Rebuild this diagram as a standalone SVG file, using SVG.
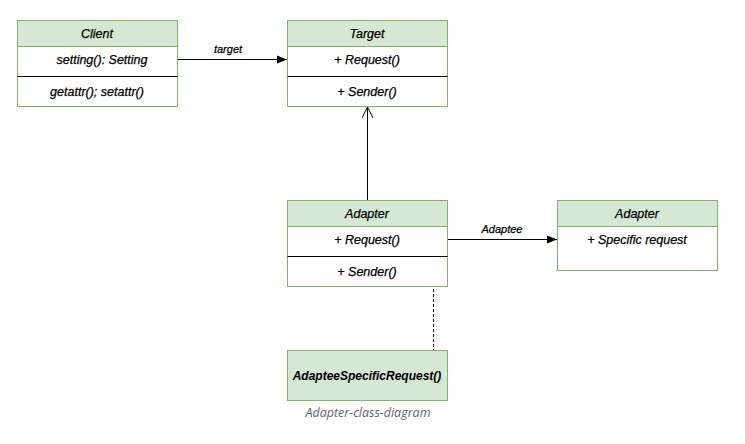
<svg xmlns="http://www.w3.org/2000/svg" width="745" height="444" viewBox="0 0 745 444">
<style>
.box{fill:#ffffff;stroke:#82b366;stroke-width:1}
.hdr{fill:#d5e8d4;stroke:#82b366;stroke-width:1}
.sep{stroke:#000000;stroke-width:1}
.t{font-family:"Liberation Sans",Arial,sans-serif;font-size:12.5px;font-style:italic;fill:#000000;stroke:#000000;stroke-width:0.25;text-anchor:middle}
.b{font-weight:bold;font-size:12px;stroke-width:0}
.cap{font-family:"Open Sans","Noto Sans",sans-serif;font-size:12.5px;font-style:italic;fill:#5a6478;text-anchor:middle}
.ln{stroke:#000000;stroke-width:1;fill:none}
</style>
<defs>
<marker id="fill" viewBox="0 0 10 10" refX="10" refY="5" markerWidth="10" markerHeight="10" markerUnits="userSpaceOnUse" orient="auto">
<path d="M0,1 L10,5 L0,9 Z" fill="#000000"/>
</marker>
<marker id="open" viewBox="0 0 12 12" refX="11" refY="6" markerWidth="12" markerHeight="12" markerUnits="userSpaceOnUse" orient="auto">
<path d="M0,0.5 L11,6 L0,11.5" fill="none" stroke="#000000" stroke-width="1"/>
</marker>
</defs>
<rect width="745" height="444" fill="#ffffff"/>
<g id="connectors">
<line class="ln" x1="177" y1="59.5" x2="287" y2="59.5" marker-end="url(#fill)"/>
<text class="t" x="228" y="53" style="font-size:11px">target</text>
<line class="ln" x1="367.5" y1="200" x2="367.5" y2="107" marker-end="url(#open)"/>
<line class="ln" x1="447" y1="239.5" x2="557" y2="239.5" marker-end="url(#fill)"/>
<text class="t" x="502" y="233" style="font-size:11px">Adaptee</text>
<line class="ln" x1="433.5" y1="289" x2="433.5" y2="350" stroke-dasharray="3,2"/>
</g>
<g id="client">
<rect class="box" x="17.5" y="20.5" width="160" height="86"/>
<rect class="hdr" x="17.5" y="20.5" width="160" height="26"/>
<text class="t" x="97" y="38">Client</text>
<text class="t" x="102" y="64">setting(): Setting</text>
<line class="sep" x1="17.5" y1="76.5" x2="177.5" y2="76.5"/>
<text class="t" x="97" y="96">getattr(); setattr()</text>
</g>
<g id="target">
<rect class="box" x="287.5" y="20.5" width="160" height="86"/>
<rect class="hdr" x="287.5" y="20.5" width="160" height="26"/>
<text class="t" x="367" y="38">Target</text>
<text class="t" x="367" y="64">+ Request()</text>
<line class="sep" x1="287.5" y1="76.5" x2="447.5" y2="76.5"/>
<text class="t" x="367" y="96">+ Sender()</text>
</g>
<g id="adapter">
<rect class="box" x="287.5" y="200.5" width="160" height="86"/>
<rect class="hdr" x="287.5" y="200.5" width="160" height="26"/>
<text class="t" x="367" y="218">Adapter</text>
<text class="t" x="367" y="244">+ Request()</text>
<line class="sep" x1="287.5" y1="256.5" x2="447.5" y2="256.5"/>
<text class="t" x="367" y="276">+ Sender()</text>
</g>
<g id="adaptee">
<rect class="box" x="557.5" y="200.5" width="160" height="70"/>
<rect class="hdr" x="557.5" y="200.5" width="160" height="26"/>
<text class="t" x="637" y="218">Adapter</text>
<text class="t" x="637" y="244">+ Specific request</text>
</g>
<g id="specific">
<rect class="hdr" x="287.5" y="350.5" width="160" height="50"/>
<text class="t b" x="367" y="380">AdapteeSpecificRequest()</text>
</g>
<text class="cap" x="368" y="417">Adapter-class-diagram</text>
</svg>
